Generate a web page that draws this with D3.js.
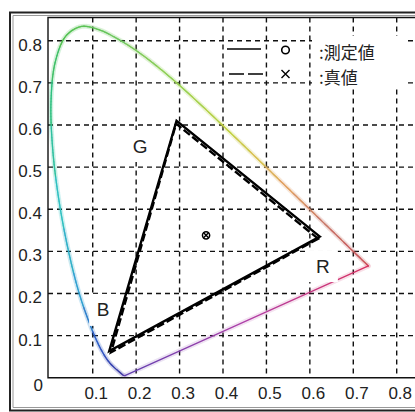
<!DOCTYPE html>
<html>
<head>
<meta charset="utf-8">
<script src="https://cdn.jsdelivr.net/npm/d3@7"></script>
<style>
  html, body { margin: 0; padding: 0; background: #fff; }
  svg { display: block; }
  text { font-family: "Liberation Sans", Arial, sans-serif; fill: #222; }
  .jp { font-family: "Noto Sans CJK JP", "Noto Sans", sans-serif; }
</style>
</head>
<body>
<svg id="chart" width="415" height="412"></svg>
<script>
// CIE 1931 spectral locus (wavelength in nm, chromaticity x, y)
const wavelengths = [380,400,420,430,440,450,460,465,470,475,480,485,490,495,500,505,510,515,520,525,530,535,540,545,550,555,560,565,570,575,580,585,590,595,600,610,620,630,640,650,680,700];
const locusX = [0.1741,0.1733,0.1714,0.1689,0.1644,0.1566,0.1440,0.1355,0.1241,0.1096,0.0913,0.0687,0.0454,0.0235,0.0082,0.0039,0.0139,0.0389,0.0743,0.1142,0.1547,0.1929,0.2296,0.2658,0.3016,0.3373,0.3731,0.4087,0.4441,0.4788,0.5125,0.5448,0.5752,0.6029,0.6270,0.6658,0.6915,0.7079,0.7190,0.7260,0.7334,0.7347];
const locusY = [0.0050,0.0048,0.0051,0.0069,0.0109,0.0177,0.0297,0.0399,0.0578,0.0868,0.1327,0.2007,0.2950,0.4127,0.5384,0.6548,0.7502,0.8120,0.8338,0.8262,0.8059,0.7816,0.7543,0.7243,0.6923,0.6589,0.6245,0.5896,0.5547,0.5202,0.4866,0.4544,0.4242,0.3965,0.3725,0.3340,0.3083,0.2920,0.2809,0.2740,0.2666,0.2653];

// Primaries of the display: measured (solid) and true (dashed)
const primaryNames = ["R", "G", "B"];
const measuredX = [0.623, 0.293, 0.138];
const measuredY = [0.335, 0.610, 0.063];
const trueX = [0.619, 0.292, 0.142];
const trueY = [0.330, 0.603, 0.060];

// White point: measured (circle) and true (cross)
const measuredWhite = [0.361, 0.338];
const trueWhite = [0.361, 0.338];

// Primary label anchors in chromaticity coordinates
const labelX = [0.630, 0.209, 0.124];
const labelY = [0.265, 0.550, 0.161];

// Axis ticks
const xTicks = [0.1, 0.2, 0.3, 0.4, 0.5, 0.6, 0.7, 0.8];
const yTicks = [0.1, 0.2, 0.3, 0.4, 0.5, 0.6, 0.7, 0.8];
const xTickLabels = ["0.1", "0.2", "0.3", "0.4", "0.5", "0.6", "0.7", "0.8"];
const yTickLabels = ["0.1", "0.2", "0.3", "0.4", "0.5", "0.6", "0.7", "0.8"];

// Legend
const legendLabels = [":測定値", ":真値"];

const svg = d3.select("#chart");
const W = 415, H = 412;
const plotLeft = 48, plotTop = 17.5, plotBottom = 377.7, plotRight = W;

const x = d3.scaleLinear().domain([0, 0.8]).range([49.3, 396.7]);
const y = d3.scaleLinear().domain([0, 0.8]).range([377.7, 40.7]);

// Colour of the locus by wavelength
const waveColor = d3.scaleLinear()
  .domain([380, 440, 460, 475, 485, 495, 505, 515, 530, 550, 565, 575, 585, 600, 620, 700])
  .range(["#6a3cb0", "#3a3aa0", "#3440b0", "#3060c8", "#30a0d0", "#30c0c0", "#30c080", "#50c050",
          "#70c860", "#98d050", "#c0d040", "#d8c050", "#e0a060", "#c87868", "#c86060", "#d04050"])
  .interpolate(d3.interpolateRgb);

// Outer frame
svg.append("rect").attr("x", 0).attr("y", 0).attr("width", W).attr("height", H).attr("fill", "#fff");
svg.append("path")
  .attr("d", `M${W},12.5 H10 V410.5 H${W}`)
  .attr("fill", "none").attr("stroke", "#222").attr("stroke-width", 2);
svg.append("path")
  .attr("d", `M${W},15.5 H13 V407.5 H${W}`)
  .attr("fill", "none").attr("stroke", "#999").attr("stroke-width", 1);

const defs = svg.append("defs");
defs.append("clipPath").attr("id", "plotClip")
  .append("rect").attr("x", plotLeft).attr("y", plotTop)
  .attr("width", plotRight - plotLeft).attr("height", plotBottom - plotTop);

const plot = svg.append("g").attr("clip-path", "url(#plotClip)");

// Dashed grid
const grid = plot.append("g").attr("stroke", "#111").attr("stroke-width", 1.4)
  .attr("stroke-dasharray", "5,4");
grid.selectAll("line.v").data(xTicks).join("line").attr("class", "v")
  .attr("x1", d => x(d)).attr("x2", d => x(d))
  .attr("y1", plotTop).attr("y2", plotBottom);
grid.selectAll("line.h").data(yTicks).join("line").attr("class", "h")
  .attr("y1", d => y(d)).attr("y2", d => y(d))
  .attr("x1", plotLeft).attr("x2", plotRight);

// Spectral locus: a smooth curve through the data, coloured piecewise by wavelength
const locus = wavelengths.map((w, i) => ({ w, px: x(locusX[i]), py: y(locusY[i]) }));
const smooth = d3.line().x(d => d.px).y(d => d.py).curve(d3.curveCatmullRom.alpha(0.5));
const probe = defs.append("path").attr("d", smooth(locus)).node();
const total = probe.getTotalLength();
const step = 1.5;
const samples = d3.range(0, total + step, step).map(t => {
  const p = probe.getPointAtLength(Math.min(t, total));
  // wavelength of the sample from the two nearest data vertices
  let best = 0, bestD = Infinity;
  locus.forEach((q, j) => {
    const dd = (q.px - p.x) ** 2 + (q.py - p.y) ** 2;
    if (dd < bestD) { bestD = dd; best = j; }
  });
  return { x: p.x, y: p.y, w: locus[best].w };
});
const pieces = d3.pairs(samples);
const locusG = plot.append("g").attr("fill", "none").attr("stroke-linecap", "round");
locusG.selectAll("line.halo").data(pieces).join("line").attr("class", "halo")
  .attr("x1", d => d[0].x).attr("y1", d => d[0].y)
  .attr("x2", d => d[1].x).attr("y2", d => d[1].y)
  .attr("stroke", d => waveColor(d[0].w))
  .attr("stroke-width", 5).attr("stroke-opacity", 0.07);
locusG.selectAll("line.core").data(pieces).join("line").attr("class", "core")
  .attr("x1", d => d[0].x).attr("y1", d => d[0].y)
  .attr("x2", d => d[1].x).attr("y2", d => d[1].y)
  .attr("stroke", d => waveColor(d[0].w))
  .attr("stroke-width", 1.3);

// Line of purples
const first = locus[0], last = locus[locus.length - 1];
const grad = defs.append("linearGradient").attr("id", "purpleGrad")
  .attr("gradientUnits", "userSpaceOnUse")
  .attr("x1", last.px).attr("y1", last.py)
  .attr("x2", first.px).attr("y2", first.py);
grad.append("stop").attr("offset", "0%").attr("stop-color", "#d83060");
grad.append("stop").attr("offset", "50%").attr("stop-color", "#b040a8");
grad.append("stop").attr("offset", "100%").attr("stop-color", "#6040b0");
locusG.append("line")
  .attr("x1", last.px).attr("y1", last.py).attr("x2", first.px).attr("y2", first.py)
  .attr("stroke", "url(#purpleGrad)").attr("stroke-width", 5).attr("stroke-opacity", 0.15);
locusG.append("line")
  .attr("x1", last.px).attr("y1", last.py).attr("x2", first.px).attr("y2", first.py)
  .attr("stroke", "url(#purpleGrad)").attr("stroke-width", 1.3);

// Label boxes and primary labels
const labels = primaryNames.map((n, i) => ({ n, x: labelX[i], y: labelY[i] }));
plot.selectAll("rect.lbl").data(labels).join("rect").attr("class", "lbl")
  .attr("x", d => x(d.x) - 14).attr("y", d => y(d.y) - 16)
  .attr("width", 29).attr("height", 32).attr("fill", "#fff");
plot.selectAll("text.lbl").data(labels).join("text").attr("class", "lbl")
  .attr("x", d => x(d.x)).attr("y", d => y(d.y))
  .attr("text-anchor", "middle").attr("dominant-baseline", "central")
  .attr("font-size", 19).text(d => d.n);

// Triangles
const triLine = d3.line().x(d => x(d[0])).y(d => y(d[1])).curve(d3.curveLinearClosed);
const trueTri = trueX.map((v, i) => [v, trueY[i]]);
const measTri = measuredX.map((v, i) => [v, measuredY[i]]);
plot.append("path").attr("d", triLine(trueTri))
  .attr("fill", "none").attr("stroke", "#000").attr("stroke-width", 2.4)
  .attr("stroke-dasharray", "8,3").attr("stroke-linejoin", "miter");
plot.append("path").attr("d", triLine(measTri))
  .attr("fill", "none").attr("stroke", "#000").attr("stroke-width", 2.4)
  .attr("stroke-linejoin", "miter");

// White point markers
const sym = 3.6;
plot.append("circle")
  .attr("cx", x(measuredWhite[0])).attr("cy", y(measuredWhite[1])).attr("r", sym)
  .attr("fill", "none").attr("stroke", "#000").attr("stroke-width", 1.5);
plot.append("path")
  .attr("d", `M${x(trueWhite[0]) - sym * 0.75},${y(trueWhite[1]) - sym * 0.75} l${sym * 1.5},${sym * 1.5} M${x(trueWhite[0]) + sym * 0.75},${y(trueWhite[1]) - sym * 0.75} l${-sym * 1.5},${sym * 1.5}`)
  .attr("stroke", "#000").attr("stroke-width", 1.4);

// Legend
const leg = plot.append("g");
leg.append("rect").attr("x", 312).attr("y", 36).attr("width", 92).attr("height", 50).attr("fill", "#fff");
leg.append("line").attr("x1", 227).attr("x2", 261).attr("y1", 49).attr("y2", 49)
  .attr("stroke", "#000").attr("stroke-width", 1.6);
leg.append("line").attr("x1", 229).attr("x2", 263).attr("y1", 74).attr("y2", 74)
  .attr("stroke", "#000").attr("stroke-width", 1.6).attr("stroke-dasharray", "15,4");
leg.append("circle").attr("cx", 285.5).attr("cy", 50).attr("r", 3.8)
  .attr("fill", "none").attr("stroke", "#000").attr("stroke-width", 1.6);
leg.append("path").attr("d", "M281.5,70 l8,8 M289.5,70 l-8,8")
  .attr("stroke", "#000").attr("stroke-width", 1.4);
leg.selectAll("text").data(legendLabels).join("text").attr("class", "jp")
  .attr("x", 319).attr("y", (d, i) => 51 + i * 25)
  .attr("dominant-baseline", "central").attr("font-size", 17).text(d => d);

// Axes frame
svg.append("path")
  .attr("d", `M${plotRight},${plotTop} H${plotLeft} V${plotBottom} H${plotRight}`)
  .attr("fill", "none").attr("stroke", "#111").attr("stroke-width", 1.4);

// Tick labels
svg.append("g").selectAll("text").data(xTicks).join("text")
  .attr("x", d => x(d) + 3.5).attr("y", 393.5)
  .attr("text-anchor", "middle").attr("dominant-baseline", "central")
  .attr("font-size", 17).text((d, i) => xTickLabels[i]);
svg.append("g").selectAll("text").data(yTicks).join("text")
  .attr("x", 42).attr("y", d => y(d) + 4.5)
  .attr("text-anchor", "end").attr("dominant-baseline", "central")
  .attr("font-size", 17).text((d, i) => yTickLabels[i]);
svg.append("text").attr("x", 43).attr("y", 385)
  .attr("text-anchor", "end").attr("dominant-baseline", "central")
  .attr("font-size", 17).text("0");
</script>
</body>
</html>
